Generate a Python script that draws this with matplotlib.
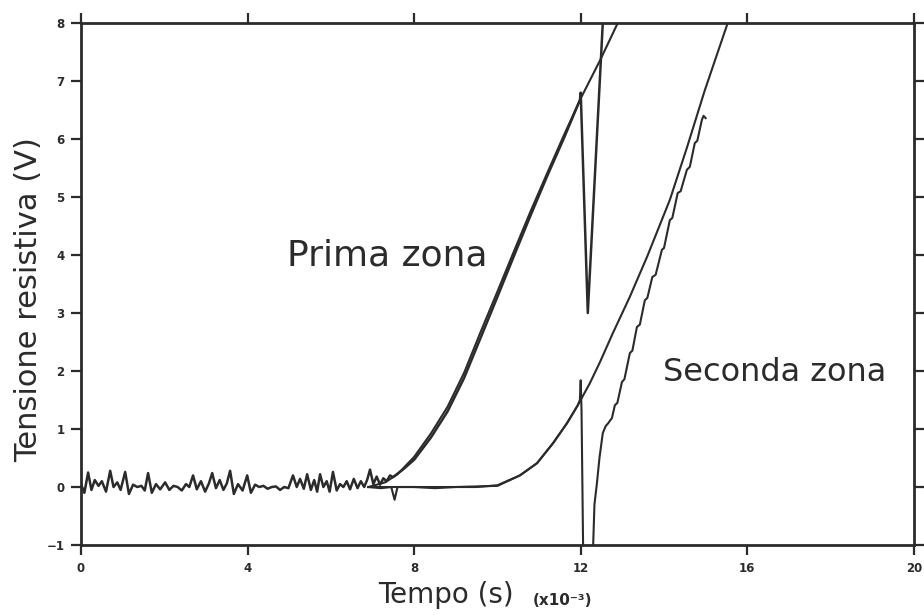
import matplotlib
matplotlib.use("Agg")
import matplotlib.pyplot as plt

# --- data (time in ms, voltage in V) ---

# experimental trace, first zone (noise, rise, spike at 12)
prima_exp_x = [0.0, 0.08, 0.17, 0.25, 0.33, 0.42, 0.5, 0.6, 0.7, 0.78, 0.87, 0.95,
               1.06, 1.15, 1.25, 1.35, 1.45, 1.53, 1.61, 1.7, 1.8, 1.9, 2.02, 2.12,
               2.22, 2.32, 2.42, 2.52, 2.6, 2.69, 2.78, 2.88, 2.98, 3.07, 3.15, 3.24,
               3.33, 3.42, 3.5, 3.58, 3.67, 3.77, 3.88, 3.99, 4.08, 4.18, 4.28, 4.38,
               4.48, 4.58, 4.68, 4.78, 4.88, 4.98, 5.09, 5.18, 5.26, 5.35, 5.43, 5.52,
               5.6, 5.67, 5.74, 5.82, 5.9, 5.97, 6.05, 6.14, 6.22, 6.3, 6.38, 6.46,
               6.55, 6.64, 6.72, 6.8, 6.87, 6.94, 7.02, 7.1, 7.18, 7.26, 7.34, 7.42,
               7.49, 7.73, 8.0, 8.4, 8.8, 9.2, 9.6, 10.0, 10.4, 10.8, 11.2, 11.6,
               11.98, 12.0, 12.17, 12.53]
prima_exp_y = [0.05, -0.1, 0.25, -0.05, 0.12, 0.02, 0.1, -0.08, 0.28, 0.0, 0.08, -0.05,
               0.26, -0.12, 0.04, 0.0, 0.02, -0.06, 0.24, -0.1, 0.05, -0.04, 0.08, -0.05,
               0.02, 0.0, -0.06, 0.05, 0.0, 0.2, -0.04, 0.1, -0.08, 0.06, 0.24, -0.02,
               0.12, -0.05, 0.06, 0.28, -0.12, 0.05, -0.06, 0.2, -0.1, 0.04, 0.0, 0.02,
               -0.03, 0.0, 0.01, -0.05, 0.0, -0.02, 0.2, 0.0, 0.14, -0.03, 0.22, -0.05,
               0.12, -0.08, 0.22, 0.0, 0.1, -0.08, 0.26, -0.06, 0.05, 0.0, 0.1, -0.04,
               0.14, -0.02, 0.1, 0.0, 0.12, 0.3, 0.05, 0.18, 0.04, 0.15, 0.1, 0.2,
               0.17, 0.3, 0.47, 0.85, 1.3, 1.88, 2.58, 3.28, 3.99, 4.69, 5.37, 6.02,
               6.67, 6.8, 3.0, 8.0]

# model curve, first zone
prima_mod_x = [6.9, 7.3, 7.6, 8.0, 8.4, 8.8, 9.2, 9.6, 10.0, 10.4, 10.8, 11.2, 11.6,
               12.0, 12.46, 12.89]
prima_mod_y = [0.0, 0.08, 0.22, 0.52, 0.92, 1.38, 1.97, 2.68, 3.37, 4.07, 4.76, 5.42,
               6.07, 6.7, 7.35, 8.0]

# experimental trace, second zone (staircase after the dip)
seconda_exp_x = [6.9, 7.2, 7.45, 7.53, 7.6, 8.0, 8.5, 9.0, 9.5, 10.0, 10.54, 10.95,
                 11.34, 11.67, 11.93, 11.98, 12.0, 12.02, 12.06, 12.29, 12.33, 12.39,
                 12.45, 12.53, 12.6, 12.66, 12.75, 12.82, 12.88, 12.99, 13.05, 13.18,
                 13.24, 13.35, 13.42, 13.54, 13.6, 13.72, 13.8, 13.95, 14.0, 14.14,
                 14.2, 14.33, 14.4, 14.55, 14.62, 14.74, 14.8, 14.91, 14.95, 15.0]
seconda_exp_y = [0.0, -0.02, 0.0, -0.22, 0.0, 0.0, -0.02, 0.0, 0.0, 0.03, 0.2, 0.41,
                 0.76, 1.1, 1.41, 1.5, 1.84, 1.3, -1.2, -1.2, -0.3, 0.07,
                 0.5, 0.93, 1.05, 1.1, 1.19, 1.41, 1.45, 1.81, 1.86, 2.31,
                 2.35, 2.76, 2.8, 3.22, 3.26, 3.62, 3.66, 4.09, 4.12, 4.6,
                 4.64, 5.07, 5.1, 5.47, 5.52, 5.93, 5.97, 6.33, 6.4, 6.36]

# model curve, second zone
seconda_mod_x = [6.9, 9.0, 10.0, 10.54, 10.95, 11.34, 11.67, 11.93, 12.22, 12.46, 12.77,
                 13.18, 13.6, 14.14, 14.55, 14.98, 15.53]
seconda_mod_y = [0.0, 0.0, 0.02, 0.2, 0.41, 0.76, 1.1, 1.41, 1.79, 2.15, 2.65,
                 3.28, 3.98, 4.95, 5.85, 6.84, 8.0]

x_ticks = [0, 4, 8, 12, 16, 20]
y_ticks = [-1, 0, 1, 2, 3, 4, 5, 6, 7, 8]

ink = "#2b2b2b"

fig = plt.figure(figsize=(9.24, 6.15), dpi=100)
ax = fig.add_axes([0.0877, 0.1138, 0.9013, 0.8488])

ax.plot(prima_exp_x, prima_exp_y, color=ink, lw=1.8)
ax.plot(prima_mod_x, prima_mod_y, color=ink, lw=1.5)
ax.plot(seconda_exp_x, seconda_exp_y, color=ink, lw=1.5)
ax.plot(seconda_mod_x, seconda_mod_y, color=ink, lw=1.5)

ax.set_xlim(0, 20)
ax.set_ylim(-1, 8)
ax.set_xticks(x_ticks)
ax.set_yticks(y_ticks)
ax.set_yticklabels(["\u22121" if v == -1 else str(v) for v in y_ticks])

# ticks on all four sides, pointing out, labels only left/bottom
ax.tick_params(direction="out", length=7, width=1.6, colors=ink,
               top=True, right=True, labelsize=8.5, pad=5)
for lab in ax.get_xticklabels() + ax.get_yticklabels():
    lab.set_fontweight("bold")
for sp in ax.spines.values():
    sp.set_linewidth(2.0)
    sp.set_color(ink)

ax.set_ylabel("Tensione resistiva (V)", fontsize=22, color=ink)
ax.yaxis.set_label_coords(-0.045, 0.47)
ax.set_xlabel("Tempo (s)", fontsize=20, color=ink)
ax.xaxis.set_label_coords(0.438, -0.068)
fig.text(0.577, 0.016, "(x10\u207b\u00b3)", fontsize=11, fontweight="bold", color=ink)

ax.text(7.35, 4.0, "Prima zona", fontsize=26, color=ink, ha="center", va="center")
ax.text(16.66, 1.98, "Seconda zona", fontsize=23, color=ink, ha="center", va="center")

fig.savefig("out.png", dpi=100)
